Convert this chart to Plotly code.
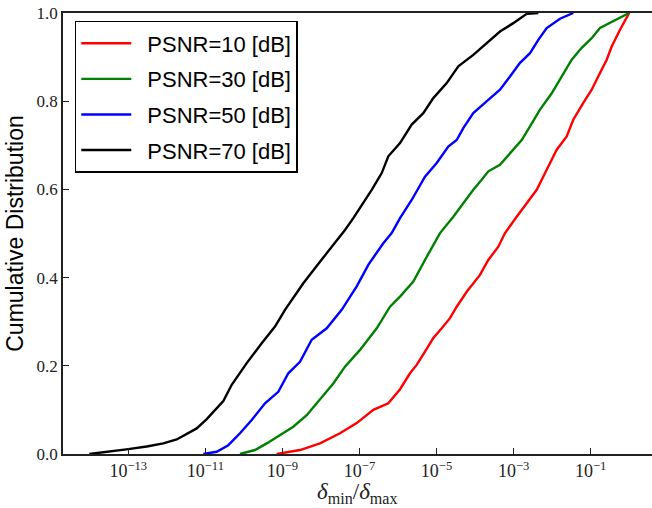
import plotly.graph_objects as go

# Empirical CDFs of delta_min / delta_max, stored as log10 exponents and cumulative fractions
labels = ["PSNR=10 [dB]", "PSNR=30 [dB]", "PSNR=50 [dB]", "PSNR=70 [dB]"]
colors = ["#ff0000", "#008000", "#0000ff", "#000000"]

exp_10 = [-9.148, -8.544, -8.025, -7.506, -7.072, -6.641, -6.252, -5.948, -5.689, -5.515,
          -5.300, -5.084, -4.866, -4.651, -4.477, -4.217, -3.872, -3.657, -3.397, -3.223,
          -2.920, -2.660, -2.400, -2.099, -1.881, -1.622, -1.451, -1.191, -0.973, -0.758,
          -0.584, -0.454, -0.238, 0.0]
cdf_10 = [0.0, 0.009, 0.024, 0.047, 0.070, 0.100, 0.115, 0.147, 0.183, 0.202,
          0.232, 0.263, 0.285, 0.308, 0.334, 0.368, 0.406, 0.440, 0.470, 0.501,
          0.538, 0.569, 0.599, 0.652, 0.690, 0.720, 0.758, 0.796, 0.826, 0.864,
          0.894, 0.924, 0.962, 1.0]

exp_30 = [-10.101, -9.712, -9.408, -9.063, -8.718, -8.370, -8.025, -7.680, -7.376, -6.987,
          -6.553, -6.208, -5.948, -5.603, -5.300, -5.084, -4.910, -4.565, -4.306, -4.046,
          -3.828, -3.657, -3.353, -3.094, -2.790, -2.574, -2.315, -2.011, -1.752, -1.492,
          -1.233, -0.973, -0.758, -0.413, 0.0]
cdf_30 = [0.0, 0.009, 0.024, 0.043, 0.062, 0.088, 0.123, 0.160, 0.198, 0.236,
          0.285, 0.334, 0.357, 0.391, 0.440, 0.474, 0.501, 0.538, 0.569, 0.599,
          0.622, 0.641, 0.656, 0.682, 0.712, 0.743, 0.781, 0.818, 0.856, 0.894,
          0.921, 0.943, 0.966, 0.981, 1.0]

exp_50 = [-11.053, -10.706, -10.405, -10.101, -9.797, -9.452, -9.107, -8.847, -8.544, -8.240,
          -7.851, -7.462, -7.072, -6.771, -6.382, -6.164, -5.948, -5.645, -5.300, -4.996,
          -4.695, -4.477, -4.306, -4.046, -3.657, -3.353, -3.094, -2.834, -2.574, -2.359,
          -2.141, -1.796, -1.451]
cdf_50 = [0.0, 0.005, 0.020, 0.047, 0.077, 0.115, 0.141, 0.183, 0.209, 0.259,
          0.285, 0.327, 0.380, 0.429, 0.478, 0.501, 0.535, 0.576, 0.629, 0.660,
          0.697, 0.712, 0.739, 0.773, 0.803, 0.826, 0.856, 0.887, 0.909, 0.939,
          0.966, 0.987, 1.0]

exp_70 = [-14.012, -13.475, -13.0, -12.522, -12.092, -11.744, -11.573, -11.225, -10.965, -10.706,
          -10.534, -10.316, -9.927, -9.538, -9.193, -8.933, -8.458, -8.025, -7.680, -7.376,
          -7.160, -6.901, -6.683, -6.423, -6.252, -5.948, -5.645, -5.344, -5.084, -4.736,
          -4.435, -4.046, -3.698, -3.353, -3.008, -2.660, -2.359]
cdf_70 = [0.0, 0.005, 0.011, 0.017, 0.024, 0.033, 0.041, 0.058, 0.079, 0.104,
          0.120, 0.157, 0.206, 0.251, 0.289, 0.327, 0.387, 0.436, 0.474, 0.508,
          0.535, 0.569, 0.599, 0.637, 0.675, 0.705, 0.747, 0.773, 0.807, 0.841,
          0.879, 0.905, 0.932, 0.958, 0.977, 0.998, 1.0]

x_tick_exps = [-13, -11, -9, -7, -5, -3, -1]
y_tick_vals = [0.0, 0.2, 0.4, 0.6, 0.8, 1.0]

series = [(exp_10, cdf_10), (exp_30, cdf_30), (exp_50, cdf_50), (exp_70, cdf_70)]

SERIF = "Liberation Serif, DejaVu Serif, serif"
SANS = "Liberation Sans, Arial, sans-serif"

fig = go.Figure()
for i, ((ex, cd), name, col) in enumerate(zip(series, labels, colors)):
    fig.add_trace(go.Scatter(
        x=[10.0 ** e for e in ex], y=cd, mode="lines",
        name="\u2002" + name,  # en space widens the gap after the legend line
        legendgroup=f"g{i}",
        line=dict(color=col, width=2.4),
    ))

fig.update_layout(
    width=652, height=508,
    margin=dict(l=63, r=0, t=13, b=54),
    paper_bgcolor="white", plot_bgcolor="white",
    showlegend=True,
    legend=dict(
        x=0.02, y=0.982, xanchor="left", yanchor="top",
        bgcolor="white", bordercolor="black", borderwidth=1.5,
        font=dict(family=SANS, size=22, color="black"),
        tracegroupgap=4, itemwidth=50,
    ),
    annotations=[dict(
        text="<i>δ</i><sub>min</sub>/<i>δ</i><sub>max</sub>",
        xref="paper", yref="paper", x=0.5, y=-0.052,
        xanchor="center", yanchor="top", showarrow=False,
        font=dict(family=SERIF, size=23, color="#222"),
    )],
)

fig.update_xaxes(
    type="log", range=[-14.695, 0.592],
    showgrid=False, zeroline=False,
    showline=True, linecolor="#222", linewidth=1.5, mirror=True,
    ticks="inside", ticklen=6, tickwidth=1.3, tickcolor="#222",
    tickvals=[10.0 ** e for e in x_tick_exps],
    ticktext=[f"10<sup>\u2212{abs(e)}</sup>" for e in x_tick_exps],
    tickfont=dict(family=SERIF, size=18, color="#222"),
)
fig.update_yaxes(
    range=[0, 1],
    showgrid=False, zeroline=False,
    showline=True, linecolor="#222", linewidth=1.5,
    ticks="inside", ticklen=6, tickwidth=1.3, tickcolor="#222",
    tickvals=y_tick_vals,
    ticktext=[f"{v:.1f}" for v in y_tick_vals],
    tickfont=dict(family=SERIF, size=17, color="#222"),
    title=dict(text="Cumulative Distribution",
               font=dict(family=SANS, size=23, color="black"), standoff=7),
)

fig.write_html("out.html")
